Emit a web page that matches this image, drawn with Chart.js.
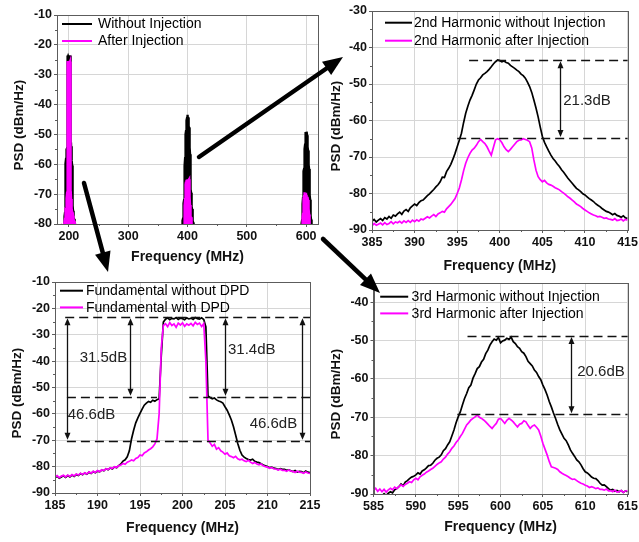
<!DOCTYPE html>
<html><head><meta charset="utf-8">
<script src="https://cdn.jsdelivr.net/npm/chart.js@4.4.1/dist/chart.umd.min.js"></script>
<style>
html,body{margin:0;padding:0;background:#fff;width:639px;height:542px;overflow:hidden;}
canvas{position:absolute;}
</style></head><body>
<canvas id="c1" width="330" height="270" style="left:0;top:0"></canvas>
<canvas id="c2" width="320" height="280" style="left:320px;top:0"></canvas>
<canvas id="c3" width="325" height="272" style="left:0;top:270px"></canvas>
<canvas id="c4" width="320" height="272" style="left:320px;top:270px"></canvas>
<canvas id="ov" width="639" height="542" style="left:0;top:0;pointer-events:none"></canvas>
<script>
// ---------- DATA ----------
// frequency offsets (MHz) from each carrier / harmonic centre
const OFFSETS = [-15,-14.75,-14.5,-14.25,-14,-13.75,-13.5,-13.25,-13,-12.75,-12.5,-12.25,-12,-11.75,-11.5,-11.25,-11,-10.75,-10.5,-10.25,-10,-9.75,-9.5,-9.25,-9,-8.75,-8.5,-8.25,-8,-7.75,-7.5,-7.25,-7,-6.75,-6.5,-6.25,-6,-5.75,-5.5,-5.25,-5,-4.75,-4.5,-4.25,-4,-3.75,-3.5,-3.25,-3,-2.75,-2.5,-2.25,-2,-1.75,-1.5,-1.25,-1,-0.75,-0.5,-0.25,0,0.25,0.5,0.75,1,1.25,1.5,1.75,2,2.25,2.5,2.75,3,3.25,3.5,3.75,4,4.25,4.5,4.75,5,5.25,5.5,5.75,6,6.25,6.5,6.75,7,7.25,7.5,7.75,8,8.25,8.5,8.75,9,9.25,9.5,9.75,10,10.25,10.5,10.75,11,11.25,11.5,11.75,12,12.25,12.5,12.75,13,13.25,13.5,13.75,14,14.25,14.5,14.75,15];
const CENTERS = [200, 400, 600];

// Fundamental (185-215 MHz), dBm/Hz
const FUND_NO_DPD = [
-84.3,-83.6,-84.4,-83.9, -83.5,-84.1,-83.4,-83.9, -83.2,-83.7,-83.0,-83.4, -82.6,-83.1,-82.4,-82.9,
-82.1,-82.6,-81.9,-82.3, -81.7,-82.0,-81.3,-81.6, -80.8,-81.2,-80.5,-80.9, -80.1,-80.4,-79.6,-79.0,
-77.9,-77.4,-76.3,-74.0, -69.5,-66.2,-63.4,-61.5, -59.8,-58.2,-56.7,-55.9, -55.3,-55.6,-54.8,-55.2,
-54.6,-54.3,-38.0,-25.2, -24.1,-23.6,-24.3,-23.8, -24.0,-23.5,-24.2,-23.7, -23.9,-24.3,-23.6,-24.0,
-23.7,-24.2,-23.5,-23.9, -24.1,-23.6,-24.2,-27.0, -53.2,-53.8,-54.3,-54.0, -54.7,-55.1,-55.4,-55.9,
-57.3,-58.6,-60.4,-62.3, -64.9,-68.0,-71.2,-73.8, -75.6,-76.4,-76.9,-77.3, -77.5,-77.2,-78.0,-78.3,
-78.5,-78.9,-79.4,-79.7, -80.0,-80.4,-80.2,-80.6, -80.7,-81.1,-80.8,-81.0, -81.0,-81.4,-81.2,-81.6,
-81.9,-81.5,-82.1,-81.8, -81.9,-82.3,-81.7,-82.1, -82.3];
const FUND_DPD = [
-84.0,-83.4,-84.2,-83.6, -83.3,-83.9,-83.2,-83.7, -83.0,-83.5,-82.8,-83.2, -82.5,-83.0,-82.3,-82.8,
-82.0,-82.5,-81.8,-82.2, -81.5,-81.9,-81.2,-81.5, -80.8,-81.1,-80.4,-80.7, -80.0,-80.3,-79.6,-79.4,
-78.8,-79.1,-78.3,-78.0, -77.5,-77.8,-76.9,-76.6, -75.6,-75.9,-74.8,-74.4, -73.7,-73.2,-72.5,-71.4,
-69.5,-60.0,-35.0,-26.5, -25.8,-26.9,-25.4,-26.5, -25.9,-27.2,-25.6,-26.3, -25.5,-26.8,-25.9,-26.4,
-25.7,-26.6,-25.3,-26.1, -25.6,-26.9,-25.8,-40.0, -69.9,-71.0,-72.3,-71.6, -73.4,-72.8,-74.0,-74.5,
-75.3,-74.8,-75.9,-76.2, -76.6,-76.1,-77.0,-77.4, -77.2,-77.8,-78.1,-77.6, -78.3,-78.8,-78.4,-79.0,
-79.3,-79.0,-79.7,-80.0, -80.2,-80.6,-80.3,-80.9, -80.9,-81.3,-81.0,-81.4, -81.4,-81.8,-81.3,-81.7,
-81.8,-82.2,-81.7,-82.1, -82.2,-82.5,-82.0,-82.4, -82.6];

// 2nd harmonic (385-415 MHz)
const H2_NO_INJ = [
-87.6,-87.1,-87.8,-87.3, -86.9,-87.4,-86.6,-87.0, -86.3,-86.8,-85.9,-86.2, -85.6,-85.1,-85.7,-84.8,
-84.4,-84.9,-83.9,-83.4, -82.9,-83.3,-82.5,-82.0, -81.8,-81.2,-80.6,-80.1, -79.5,-78.9,-78.2,-77.6,
-76.8,-75.5,-75.6,-74.0, -73.1,-72.0,-70.6,-69.0, -67.2,-65.4,-63.5,-60.6, -58.0,-56.1,-54.4,-53.1,
-51.6,-50.0,-48.9,-48.3, -47.5,-47.1,-46.6,-46.0, -45.3,-44.5,-43.9,-43.4, -43.6,-43.9,-43.7,-44.1,
-44.3,-44.9,-45.3,-45.7, -46.2,-46.6,-47.3,-47.7, -48.4,-49.5,-50.7,-52.3, -54.4,-56.6,-59.0,-61.8,
-64.4,-66.0,-67.2,-68.4, -69.5,-70.4,-71.1,-71.9, -72.6,-73.5,-74.2,-75.0, -75.8,-76.5,-77.2,-77.9,
-78.6,-79.0,-79.5,-80.1, -80.4,-80.9,-81.4,-81.8, -82.2,-82.8,-83.2,-83.6, -84.1,-84.5,-84.9,-85.1,
-85.4,-85.8,-85.5,-86.0, -86.2,-86.5,-86.1,-86.7, -86.8];
const H2_INJ = [
-88.9,-88.2,-88.7,-88.4, -88.1,-88.6,-88.0,-88.5, -88.2,-87.7,-88.3,-87.8, -88.0,-87.6,-88.1,-87.5,
-87.9,-87.4,-87.9,-87.3, -87.7,-87.2,-87.6,-87.0, -87.2,-86.8,-86.4,-86.7, -86.2,-85.8,-86.3,-85.6,
-85.3,-84.9,-85.1,-84.2, -83.6,-83.0,-82.2,-81.4, -80.0,-78.5,-76.3,-73.8, -71.7,-70.2,-69.0,-68.1,
-67.6,-66.8,-65.8,-65.2, -65.8,-66.3,-67.2,-68.4, -69.5,-67.4,-65.3,-65.0, -65.3,-66.1,-67.2,-68.0,
-68.5,-67.9,-67.2,-66.5, -65.8,-65.4,-65.3,-65.0, -65.2,-65.4,-65.8,-67.5, -70.8,-73.6,-75.4,-76.2,
-76.8,-76.4,-77.1,-77.5, -77.7,-78.0,-78.4,-78.7, -79.0,-79.5,-79.9,-80.4, -80.9,-81.3,-81.8,-82.3,
-82.9,-83.2,-83.6,-84.1, -84.5,-84.9,-85.3,-85.6, -85.9,-86.1,-86.4,-86.3, -86.5,-86.8,-86.7,-87.0,
-87.1,-87.3,-86.9,-87.4, -87.3,-87.0,-87.5,-87.1, -87.3];

// 3rd harmonic (585-615 MHz)
const H3_NO_INJ = [
-90.6,-90.2,-90.8,-90.3, -90.5,-89.9,-90.4,-89.8, -89.4,-89.7,-88.9,-88.6, -88.1,-87.4,-87.9,-86.9,
-86.5,-86.0,-85.6,-85.4, -85.0,-84.5,-84.8,-84.0, -83.7,-83.2,-82.6,-82.5, -82.0,-81.2,-80.7,-80.4,
-79.8,-78.7,-78.2,-77.2, -76.4,-74.9,-73.3,-71.4, -69.9,-68.6,-66.8,-65.1, -63.8,-62.3,-61.6,-59.8,
-58.6,-57.3,-56.8,-55.6, -54.9,-53.4,-52.5,-51.2, -50.3,-49.6,-49.9,-49.2, -50.6,-50.1,-49.9,-49.4,
-49.7,-49.1,-50.3,-50.8, -51.6,-52.0,-52.9,-53.3, -54.2,-55.4,-56.0,-56.6, -57.7,-58.3,-59.4,-60.2,
-61.6,-62.8,-64.2,-65.9, -67.3,-68.9,-70.3,-71.9, -73.3,-74.4,-75.5,-76.1, -77.2,-78.5,-79.4,-80.2,
-81.1,-81.6,-82.4,-83.4, -84.2,-84.5,-85.0,-85.6, -85.9,-86.0,-86.5,-87.2, -87.7,-87.6,-88.1,-88.6,
-89.0,-88.8,-89.3,-89.1, -89.4,-89.1,-89.6,-89.2, -89.4];
const H3_INJ = [
-89.0,-88.5,-89.3,-88.7, -89.4,-88.8,-89.5,-88.9, -88.5,-88.9,-88.2,-88.6, -88.1,-87.6,-88.0,-87.5,
-87.2,-86.8,-87.0,-86.3, -85.9,-86.3,-85.5,-85.1, -84.8,-84.3,-84.0,-83.6, -83.3,-82.8,-82.3,-81.9,
-81.6,-80.9,-80.4,-79.6, -79.0,-78.1,-77.5,-76.6, -75.9,-75.0,-74.2,-73.1, -72.0,-71.4,-70.7,-70.3,
-69.9,-69.4,-70.0,-70.3, -70.7,-71.2,-71.8,-72.4, -72.9,-72.2,-71.6,-70.5, -70.3,-70.9,-71.6,-70.8,
-70.3,-70.7,-71.2,-71.9, -72.5,-71.8,-71.6,-70.9, -71.2,-72.1,-72.9,-72.3, -72.0,-72.6,-73.3,-74.9,
-76.8,-78.3,-79.8,-81.5, -82.9,-83.1,-83.3,-83.6, -84.2,-84.6,-84.9,-85.2, -85.5,-85.9,-86.2,-86.1,
-86.5,-86.9,-87.2,-87.4, -87.7,-87.9,-88.3,-88.1, -88.3,-88.6,-88.4,-88.8, -88.8,-89.0,-88.7,-89.2,
-89.1,-89.4,-89.0,-89.5, -89.4,-89.1,-89.6,-89.2, -89.1];

// Annotation readings: [xFrom, xTo, level], [x, levelTop, levelBottom], [text, x, level]
const P2_LEVELS = [[396.4, 415, -43.5], [395.0, 415, -64.8]];
const P2_SPANS = [[407.1, -43.5, -64.8]];
const P2_TEXTS = [['21.3dB', 407.45, -54.5]];
const P3_LEVELS = [[186.2, 215, -23.4], [186.4, 197.0, -53.5], [200.8, 215, -53.5], [186.4, 215, -70.2]];
const P3_SPANS = [[186.4, -23.4, -70.2], [193.8, -23.4, -53.5], [205.0, -23.4, -53.5], [214.0, -23.4, -70.2]];
const P3_TEXTS = [['31.5dB', 187.9, -38.8], ['31.4dB', 205.35, -35.8], ['46.6dB', 186.5, -60.4], ['46.6dB', 207.9, -63.8]];
const P4_LEVELS = [[596.1, 615, -48.8], [594.9, 615, -69.2]];
const P4_SPANS = [[608.35, -48.8, -69.2]];
const P4_TEXTS = [['20.6dB', 609.05, -58.1]];

// ---------- RENDERING ----------
const FONT = "'Liberation Sans', Arial, Helvetica, sans-serif";
Chart.defaults.font.family = FONT;
Chart.defaults.color = '#000';
const BLACK = '#000000', PINK = '#ff00ff';
const FRAME = '#5c5c5c', GRID = '#d6d6d6';

function series(center, vals) { return vals.map((v, i) => ({x: center + OFFSETS[i], y: v})); }

const framePlugin = {
  id: 'frame',
  afterDatasetsDraw(chart) {
    const {ctx, chartArea: a} = chart;
    ctx.save(); ctx.strokeStyle = FRAME; ctx.lineWidth = 1;
    ctx.strokeRect(Math.round(a.left) + 0.5, Math.round(a.top) + 0.5, Math.round(a.right - a.left), Math.round(a.bottom - a.top));
    ctx.restore();
  }
};
const minorPlugin = {
  id: 'minor',
  afterDraw(chart) {
    const {ctx, chartArea: a} = chart;
    ctx.save(); ctx.strokeStyle = FRAME; ctx.lineWidth = 1;
    ['x', 'y'].forEach(id => {
      const s = chart.scales[id];
      const t = s.ticks.map(k => k.value);
      if (t.length < 2) return;
      const st = t[1] - t[0];
      const mids = [t[0] - st / 2];
      for (let i = 0; i < t.length; i++) mids.push(t[i] + st / 2);
      mids.forEach(v => {
        if (v <= s.min || v >= s.max) return;
        const p = Math.round(s.getPixelForValue(v)) + 0.5;
        ctx.beginPath();
        if (id === 'x') { ctx.moveTo(p, a.bottom); ctx.lineTo(p, a.bottom + 2); }
        else { ctx.moveTo(a.left, p); ctx.lineTo(a.left - 2, p); }
        ctx.stroke();
      });
    });
    ctx.restore();
  }
};
function legendPlugin(o) {
  return {
    id: 'inLegend',
    afterDatasetsDraw(chart) {
      const {ctx, chartArea: a} = chart;
      ctx.save();
      ctx.font = '14px ' + FONT; ctx.textBaseline = 'middle'; ctx.textAlign = 'left'; ctx.fillStyle = '#000';
      for (let i = 0; i < 2; i++) {
        const ds = chart.data.datasets[i];
        const yy = a.top + o.y + i * o.rowH;
        ctx.strokeStyle = ds.borderColor; ctx.lineWidth = 2;
        ctx.beginPath(); ctx.moveTo(a.left + o.x, yy); ctx.lineTo(a.left + o.x + o.len, yy); ctx.stroke();
        ctx.fillText(ds.label, a.left + o.x + o.len + o.gap, yy + 0.5);
      }
      ctx.restore();
    }
  };
}
function notesPlugin(levels, spans, texts) {
  return {
    id: 'notes',
    afterDatasetsDraw(chart) {
      const {ctx, scales: {x, y}} = chart;
      ctx.save();
      ctx.strokeStyle = '#111'; ctx.fillStyle = '#111'; ctx.lineWidth = 1.3;
      ctx.setLineDash([9, 5]);
      levels.forEach(([a, b, v]) => {
        const py = Math.round(y.getPixelForValue(v)) + 0.5;
        ctx.beginPath(); ctx.moveTo(x.getPixelForValue(a), py); ctx.lineTo(x.getPixelForValue(b), py); ctx.stroke();
      });
      ctx.setLineDash([]);
      spans.forEach(([xv, v1, v2]) => {
        const px = Math.round(x.getPixelForValue(xv)) + 0.5;
        const p1 = y.getPixelForValue(v1) + 1, p2 = y.getPixelForValue(v2) - 1;
        ctx.beginPath(); ctx.moveTo(px, p1 + 4); ctx.lineTo(px, p2 - 4); ctx.stroke();
        ctx.beginPath(); ctx.moveTo(px, p1); ctx.lineTo(px - 3, p1 + 7); ctx.lineTo(px + 3, p1 + 7); ctx.closePath(); ctx.fill();
        ctx.beginPath(); ctx.moveTo(px, p2); ctx.lineTo(px - 3, p2 - 7); ctx.lineTo(px + 3, p2 - 7); ctx.closePath(); ctx.fill();
      });
      ctx.font = '15px ' + FONT; ctx.fillStyle = '#222'; ctx.textBaseline = 'middle'; ctx.textAlign = 'left';
      texts.forEach(([t, xv, v]) => ctx.fillText(t, x.getPixelForValue(xv), y.getPixelForValue(v)));
      ctx.restore();
    }
  };
}

function makePanel(p) {
  const tickFont = {size: 12.5, weight: 'bold'};
  return new Chart(document.getElementById(p.id), {
    type: 'line',
    data: {datasets: p.datasets},
    options: {
      responsive: false, animation: false, devicePixelRatio: 1,
      layout: {padding: {top: p.padTop, right: p.padRight, left: 0, bottom: 0}},
      elements: {point: {radius: 0}, line: {borderWidth: 1.7, tension: 0}},
      plugins: {legend: {display: false}, tooltip: {enabled: false}},
      scales: {
        x: {
          type: 'linear', min: p.xMin, max: p.xMax,
          afterBuildTicks: s => { s.ticks = s.ticks.filter(t => Math.abs(t.value / p.xStep - Math.round(t.value / p.xStep)) < 1e-6); },
          afterFit: s => { s.height = p.xH; },
          ticks: {stepSize: p.xStep, includeBounds: false, font: tickFont, color: '#111', padding: 2, maxRotation: 0, autoSkip: false},
          grid: {color: GRID, tickColor: FRAME, tickLength: 3},
          border: {color: FRAME},
          title: {display: true, text: 'Frequency (MHz)', font: {size: 14, weight: 'bold'}, color: '#111', padding: {top: 0, bottom: p.xTitlePad}}
        },
        y: {
          type: 'linear', min: p.yMin, max: p.yMax,
          afterBuildTicks: s => { s.ticks = s.ticks.filter(t => Math.abs(t.value / 10 - Math.round(t.value / 10)) < 1e-6); },
          afterFit: s => { s.width = p.yW; },
          ticks: {stepSize: 10, includeBounds: false, font: tickFont, color: '#111', padding: 2},
          grid: {color: GRID, tickColor: FRAME, tickLength: 3},
          border: {color: FRAME},
          title: {display: true, text: 'PSD (dBm/Hz)   ', font: {size: 13.5, weight: 'bold'}, color: '#111', padding: {top: p.yTitlePad, bottom: 0}}
        }
      }
    },
    plugins: [framePlugin, minorPlugin, legendPlugin(p.legend), notesPlugin(p.levels, p.spans, p.texts)]
  });
}

function line(label, color, data, order, fill) {
  return {label, data, borderColor: color, backgroundColor: color, borderWidth: fill ? 2.4 : 1.7, fill: fill ? 'start' : false, order};
}

// Panel 1: overview
makePanel({
  id: 'c1', xMin: 180, xMax: 620, xStep: 100, yMin: -80, yMax: -10,
  padTop: 15, padRight: 12, xH: 46, yW: 57, xTitlePad: 4, yTitlePad: 10.7,
  datasets: [
    line('Without Injection', BLACK, series(CENTERS[0], FUND_NO_DPD), 2, true),
    line('After Injection', PINK, series(CENTERS[0], FUND_DPD), 1, true),
    line('Without Injection', BLACK, series(CENTERS[1], H2_NO_INJ), 2, true),
    line('After Injection', PINK, series(CENTERS[1], H2_INJ), 1, true),
    line('Without Injection', BLACK, series(CENTERS[2], H3_NO_INJ), 2, true),
    line('After Injection', PINK, series(CENTERS[2], H3_INJ), 1, true)
  ],
  legend: {x: 5, y: 9, rowH: 17, len: 30, gap: 6},
  levels: [], spans: [], texts: []
});
// Panel 2: 2nd harmonic
makePanel({
  id: 'c2', xMin: 385, xMax: 415, xStep: 5, yMin: -90, yMax: -30,
  padTop: 11, padRight: 10, xH: 50, yW: 52, xTitlePad: 5, yTitlePad: 7.7,
  datasets: [
    line('2nd Harmonic without Injection', BLACK, series(CENTERS[1], H2_NO_INJ), 2, false),
    line('2nd Harmonic after Injection', PINK, series(CENTERS[1], H2_INJ), 1, false)
  ],
  legend: {x: 13, y: 11.7, rowH: 18, len: 27, gap: 2},
  levels: P2_LEVELS, spans: P2_SPANS, texts: P2_TEXTS
});
// Panel 3: fundamental
makePanel({
  id: 'c3', xMin: 185, xMax: 215, xStep: 5, yMin: -90, yMax: -10,
  padTop: 12, padRight: 15, xH: 49, yW: 55, xTitlePad: 5.6, yTitlePad: 9.4,
  datasets: [
    line('Fundamental without DPD', BLACK, series(CENTERS[0], FUND_NO_DPD), 2, false),
    line('Fundamental with DPD', PINK, series(CENTERS[0], FUND_DPD), 1, false)
  ],
  legend: {x: 5, y: 8.7, rowH: 16.7, len: 23, gap: 3},
  levels: P3_LEVELS, spans: P3_SPANS, texts: P3_TEXTS
});
// Panel 4: 3rd harmonic
makePanel({
  id: 'c4', xMin: 585, xMax: 615, xStep: 5, yMin: -90, yMax: -35,
  padTop: 13, padRight: 11, xH: 48, yW: 53.5, xTitlePad: 6.9, yTitlePad: 7.7,
  datasets: [
    line('3rd Harmonic without Injection', BLACK, series(CENTERS[2], H3_NO_INJ), 2, false),
    line('3rd Harmonic after Injection', PINK, series(CENTERS[2], H3_INJ), 1, false)
  ],
  legend: {x: 6.7, y: 13.7, rowH: 16.7, len: 28, gap: 3.4},
  levels: P4_LEVELS, spans: P4_SPANS, texts: P4_TEXTS
});

// Big pointer arrows linking the overview to the zoomed panels (decoration)
(function () {
  const ctx = document.getElementById('ov').getContext('2d');
  ctx.fillStyle = '#000'; ctx.strokeStyle = '#000';
  function arrow(x1, y1, x2, y2) {
    const a = Math.atan2(y2 - y1, x2 - x1), hl = 20, hw = 8;
    const bx = x2 - hl * Math.cos(a), by = y2 - hl * Math.sin(a);
    ctx.lineWidth = 4.5; ctx.lineCap = 'round';
    ctx.beginPath(); ctx.moveTo(x1, y1); ctx.lineTo(bx + 2 * Math.cos(a), by + 2 * Math.sin(a)); ctx.stroke();
    ctx.beginPath(); ctx.moveTo(x2, y2);
    ctx.lineTo(bx - hw * Math.sin(a), by + hw * Math.cos(a));
    ctx.lineTo(bx + hw * Math.sin(a), by - hw * Math.cos(a));
    ctx.closePath(); ctx.fill();
  }
  arrow(199, 157, 343, 57);
  arrow(84, 183, 108, 272);
  arrow(323, 239, 380, 293);
})();
</script>
</body></html>
